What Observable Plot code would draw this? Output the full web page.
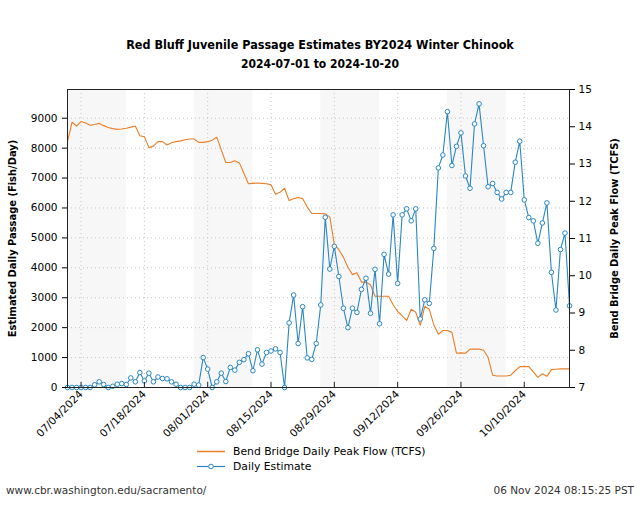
<!DOCTYPE html>
<html><head><meta charset="utf-8">
<script src="https://cdn.jsdelivr.net/npm/d3@7"></script>
<script src="https://cdn.jsdelivr.net/npm/@observablehq/plot@0.6"></script>
<style>
body{margin:0;background:#fff;font-family:"DejaVu Sans",sans-serif;}
#wrap{position:relative;width:640px;height:530px;overflow:hidden;}
.abs{position:absolute;white-space:nowrap;}
#chart{position:absolute;left:0;top:0;}
</style></head><body><div id="wrap">
<div class="abs" id="title" style="left:0;width:640px;top:37px;text-align:center;font-family:'DejaVu Sans Condensed','DejaVu Sans';font-weight:bold;font-size:12.5px;"></div>
<div class="abs" id="subtitle" style="left:0;width:640px;top:57px;text-align:center;font-family:'DejaVu Sans Condensed','DejaVu Sans';font-weight:bold;font-size:12px;"></div>
<div id="chart"></div>
<div class="abs" id="legend" style="left:195px;top:444px;font-size:10.8px;line-height:15px;"></div>
<div class="abs" id="footL" style="left:6px;top:484px;font-size:10.5px;color:#333;"></div>
<div class="abs" id="footR" style="right:6px;top:484px;font-size:10.5px;color:#333;"></div>
</div>
<script>
const titleText = "Red Bluff Juvenile Passage Estimates BY2024 Winter Chinook";
const subtitleText = "2024-07-01 to 2024-10-20";
const leftLabel = "Estimated Daily Passage (Fish/Day)";
const rightLabel = "Bend Bridge Daily Peak Flow (TCFS)";
const flowName = "Bend Bridge Daily Peak Flow (TCFS)";
const estName = "Daily Estimate";
const footLeft = "www.cbr.washington.edu/sacramento/";
const footRight = "06 Nov 2024 08:15:25 PST";

const startDate = "2024-07-01";
const endDate = "2024-10-20";

// Daily estimates (fish/day), 2024-07-01 .. 2024-10-20
const dailyEstimate = [
  0,0,0,0,0,0,90,190,100,0,
  40,110,130,100,320,190,500,220,480,190,
  350,300,290,190,110,0,0,0,110,80,
  1000,615,0,190,480,200,670,580,840,930,
  1130,560,1260,780,1170,1220,1290,1170,0,2160,
  3090,1470,2700,990,940,1470,2760,5690,3960,4720,
  3710,2650,2000,2650,2510,3280,3650,2480,3950,2130,
  4450,3790,5770,3480,5770,5970,5570,5970,2290,2930,
  2810,4650,7340,7770,9220,7420,8060,8510,7070,6660,
  8810,9480,8080,6710,6820,6520,6300,6520,6520,7530,
  8230,6270,5680,5570,4820,5500,6170,3850,2590,4610,
  5160,2730
];
// Bend Bridge daily peak flow (thousand cfs), same days
const peakFlow = [
  13.60,14.12,14.02,14.14,14.10,14.04,14.06,14.09,14.03,13.98,
  13.95,13.93,13.94,13.96,13.99,14.02,13.76,13.73,13.44,13.48,
  13.60,13.60,13.51,13.57,13.60,13.62,13.65,13.67,13.67,13.58,
  13.58,13.60,13.64,13.72,13.38,13.04,13.04,13.09,13.03,12.75,
  12.47,12.48,12.49,12.48,12.47,12.44,12.19,12.24,12.35,12.02,
  12.07,12.10,12.07,11.85,11.67,11.67,11.67,11.66,11.58,10.84,
  10.70,10.50,10.23,10.03,10.08,9.83,9.83,9.75,9.45,9.45,
  9.45,9.45,9.22,9.04,8.92,8.80,9.10,9.02,8.67,9.18,
  9.10,8.68,8.43,8.53,8.53,8.48,7.92,7.93,7.92,8.03,
  8.03,8.03,8.00,7.81,7.33,7.31,7.31,7.31,7.33,7.45,
  7.56,7.56,7.56,7.42,7.27,7.37,7.30,7.48,7.49,7.50,
  7.50,7.50
];

const bandStarts = ["2024-07-01","2024-07-29","2024-08-26","2024-09-23"];
const bandEnds   = ["2024-07-14","2024-08-11","2024-09-08","2024-10-06"];

const xTickDates = ["2024-07-04","2024-07-18","2024-08-01","2024-08-15","2024-08-29","2024-09-12","2024-09-26","2024-10-10"];
const leftTicks = [0,1000,2000,3000,4000,5000,6000,7000,8000,9000];
const rightTicks = [7,8,9,10,11,12,13,14,15];

const leftMax = 9960;
const rightDomain = [7, 15];

const orange = "#ea7f2a";
const blue = "#2b87c4";

// build tables
const days = d3.utcDays(new Date(startDate), d3.utcDay.offset(new Date(endDate), 1));
const rows = days.map((d, i) => ({date: d, est: dailyEstimate[i], flow: peakFlow[i]}));
const bands = bandStarts.map((s, i) => ({x1: new Date(s), x2: new Date(bandEnds[i])}));
const xTicks = xTickDates.map(s => new Date(s));
const toLeft = d3.scaleLinear(rightDomain, [0, leftMax]);

const H = 445, MT = 89, MB = 58;
const innerH = H - MT - MB;
const tickLen = leftMax * 5 / innerH;

const chart = Plot.plot({
  width: 640, height: H,
  marginLeft: 67, marginRight: 71, marginTop: MT, marginBottom: MB,
  style: {fontFamily: "DejaVu Sans", fontSize: "10.5px", color: "#000", background: "transparent"},
  x: {type: "utc", domain: [new Date(startDate), new Date(endDate)]},
  y: {domain: [0, leftMax]},
  marks: [
    Plot.rect(bands, {x1: "x1", x2: "x2", fill: "#f7f7f7"}),
    Plot.gridY(leftTicks, {stroke: "#c4c4c4", strokeOpacity: 1, strokeDasharray: "1,3"}),
    Plot.gridX(xTicks, {stroke: "#c4c4c4", strokeOpacity: 1, strokeDasharray: "1,3"}),
    Plot.line(rows, {x: "date", y: d => toLeft(d.flow), stroke: orange, strokeWidth: 1.1}),
    Plot.line(rows, {x: "date", y: "est", stroke: blue, strokeWidth: 1.1}),
    Plot.dot(rows, {x: "date", y: "est", r: 2.3, stroke: blue, fill: "white", strokeWidth: 1}),
    Plot.ruleX(xTicks, {x: d => d, y1: 0, y2: tickLen, stroke: "#222"}),
    Plot.axisX(xTicks, {tickSize: 0, tickPadding: 5, tickRotate: -45, tickFormat: d3.utcFormat("%m/%d/%Y"), label: null}),
    Plot.axisY(leftTicks, {tickSize: 5, tickPadding: 5, tickFormat: d3.format("d"), label: null}),
    Plot.axisY(rightTicks, {anchor: "right", y: d => toLeft(d), tickSize: 5, tickPadding: 4, tickFormat: d => d, label: null}),
    Plot.frame({stroke: "#222"}),
    Plot.text([leftLabel], {text: d => d, frameAnchor: "left", textAnchor: "middle", dx: -55, rotate: -90, fontWeight: "bold", fontSize: 11, fontFamily: "DejaVu Sans Condensed"}),
    Plot.text([rightLabel], {text: d => d, frameAnchor: "right", textAnchor: "middle", dx: 45, rotate: -90, fontWeight: "bold", fontSize: 11, fontFamily: "DejaVu Sans Condensed"})
  ]
});
document.getElementById("chart").appendChild(chart);

document.getElementById("title").textContent = titleText;
document.getElementById("subtitle").textContent = subtitleText;
document.getElementById("footL").textContent = footLeft;
document.getElementById("footR").textContent = footRight;

const legend = document.getElementById("legend");
legend.innerHTML =
  `<div style="display:flex;align-items:center;"><svg width="34" height="15"><line x1="2" x2="30" y1="7.5" y2="7.5" stroke="${orange}" stroke-width="1.5"/></svg><span style="margin-left:4px">${flowName}</span></div>` +
  `<div style="display:flex;align-items:center;"><svg width="34" height="15"><line x1="2" x2="30" y1="7.5" y2="7.5" stroke="${blue}" stroke-width="1.2"/><circle cx="16" cy="7.5" r="2.3" fill="white" stroke="${blue}"/></svg><span style="margin-left:4px">${estName}</span></div>`;
</script>
</body></html>
